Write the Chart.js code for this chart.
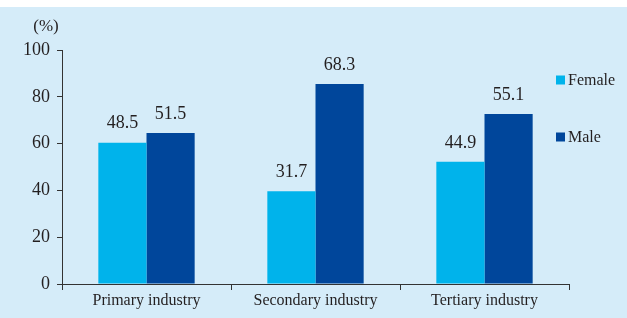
<!DOCTYPE html>
<html>
<head>
<meta charset="utf-8">
<script src="https://cdn.jsdelivr.net/npm/chart.js@4"></script>
<style>
  html, body { margin: 0; padding: 0; background: #ffffff; }
  #wrap { width: 627px; height: 318px; }
</style>
</head>
<body>
<div id="wrap"><canvas id="c" width="627" height="318"></canvas></div>
<script>
const categories = ['Primary industry', 'Secondary industry', 'Tertiary industry'];
const seriesNames = ['Female', 'Male'];
// bar heights as drawn in the picture
const femaleValues = [60.4, 39.6, 52.2];
const maleValues = [64.5, 85.5, 72.6];
// value labels printed above the bars
const femaleLabels = ['48.5', '31.7', '44.9'];
const maleLabels = ['51.5', '68.3', '55.1'];
const yTicks = [0, 20, 40, 60, 80, 100];
const yUnit = '(%)';

const FONT = "'Liberation Serif', 'Times New Roman', serif";
const TEXT = '#231f20';
const AXIS = '#333333';
const FEMALE_COLOR = '#00b3eb';
const MALE_COLOR = '#00469b';
const BG = '#d5ecf9';

const bgPlugin = {
  id: 'bg',
  beforeDraw(chart) {
    const ctx = chart.ctx;
    ctx.save();
    ctx.fillStyle = '#ffffff';
    ctx.fillRect(0, 0, chart.width, chart.height);
    ctx.fillStyle = BG;
    ctx.fillRect(0, 7, chart.width, chart.height - 7);
    ctx.restore();
  }
};

const labelPlugin = {
  id: 'valueLabels',
  afterDatasetsDraw(chart) {
    const ctx = chart.ctx;
    ctx.save();
    ctx.font = '18px ' + FONT;
    ctx.fillStyle = TEXT;
    ctx.textAlign = 'center';
    ctx.textBaseline = 'middle';
    chart.data.datasets.forEach((ds, di) => {
      const meta = chart.getDatasetMeta(di);
      meta.data.forEach((bar, i) => {
        ctx.fillText(ds.valueLabels[i], bar.x, bar.y - 19);
      });
    });
    // unit label
    ctx.font = '17px ' + FONT;
    ctx.fillText(yUnit, 46, 27);
    // legend
    const legendY = [80, 137];
    ctx.font = '16px ' + FONT;
    ctx.textAlign = 'left';
    chart.data.datasets.forEach((ds, di) => {
      const y = legendY[di];
      ctx.fillStyle = ds.backgroundColor;
      ctx.fillRect(556, y - 4.5, 9, 9);
      ctx.fillStyle = TEXT;
      ctx.fillText(ds.label, 568, y + 0.5);
    });
    ctx.restore();
  }
};

new Chart(document.getElementById('c'), {
  type: 'bar',
  data: {
    labels: categories,
    datasets: [
      { label: seriesNames[0], data: femaleValues, valueLabels: femaleLabels, backgroundColor: FEMALE_COLOR, borderWidth: 0 },
      { label: seriesNames[1], data: maleValues, valueLabels: maleLabels, backgroundColor: MALE_COLOR, borderWidth: 0 }
    ]
  },
  options: {
    responsive: false,
    animation: false,
    categoryPercentage: 0.57,
    barPercentage: 1.0,
    layout: { padding: { left: 0, right: 58, top: 50, bottom: 0 } },
    plugins: {
      legend: { display: false },
      tooltip: { enabled: false }
    },
    scales: {
      x: {
        afterFit(s) { s.height = 34; },
        border: { display: true, color: AXIS, width: 1 },
        grid: { display: true, drawOnChartArea: false, drawTicks: true, tickLength: 6, color: AXIS, offset: true },
        ticks: { color: TEXT, font: { family: FONT, size: 16 }, padding: 1, maxRotation: 0 }
      },
      y: {
        min: 0,
        max: 100,
        afterFit(s) { s.width = 62; },
        afterBuildTicks(s) { s.ticks = yTicks.map(v => ({ value: v })); },
        border: { display: true, color: AXIS, width: 1 },
        grid: { display: true, drawOnChartArea: false, drawTicks: true, tickLength: 5, color: AXIS },
        ticks: { color: TEXT, font: { family: FONT, size: 18 }, padding: 7 }
      }
    }
  },
  plugins: [bgPlugin, labelPlugin]
});
</script>
</body>
</html>
